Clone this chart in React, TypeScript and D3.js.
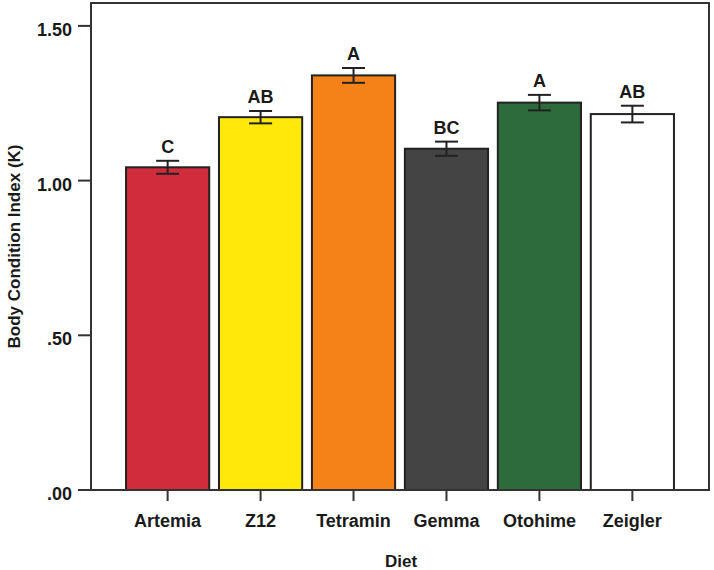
import React from "react";
import * as d3 from "d3";

const categories = ["Artemia", "Z12", "Tetramin", "Gemma", "Otohime", "Zeigler"];
const means = [1.043, 1.205, 1.340, 1.103, 1.252, 1.215];
const errors = [0.021, 0.02, 0.024, 0.023, 0.025, 0.027];
const letters = ["C", "AB", "A", "BC", "A", "AB"];
const colors = ["#D02C3C", "#FFE80A", "#F58218", "#444444", "#2D6B3B", "#FFFFFF"];
const yTicks = [0, 0.5, 1.0, 1.5];
const yTickLabels = [".00", ".50", "1.00", "1.50"];

const W = 714;
const H = 570;
const left = 91;
const right = 709;
const top = 3;
const bottom = 490;

export default function App() {
  const x = d3
    .scaleBand<string>()
    .domain(categories)
    .range([left, right])
    .paddingInner(0.105)
    .paddingOuter(0.377);
  const y = d3.scaleLinear().domain([0, 1.574]).range([bottom, top]);
  const font = "'Liberation Sans', Arial, Helvetica, sans-serif";
  const stroke = "#222";

  return (
    <svg
      width={W}
      height={H}
      style={{ position: "absolute", left: 0, top: 0, background: "#fff" }}
      fontFamily={font}
      fontWeight="bold"
    >
      {categories.map((c, i) => (
        <rect
          key={c}
          x={x(c)!}
          y={y(means[i])}
          width={x.bandwidth()}
          height={bottom - y(means[i])}
          fill={colors[i]}
          stroke={stroke}
          strokeWidth={2}
        />
      ))}
      {categories.map((c, i) => {
        const cx = x(c)! + x.bandwidth() / 2;
        const yt = y(means[i] + errors[i]);
        const yb = y(means[i] - errors[i]);
        return (
          <g key={c + "e"} stroke={stroke} strokeWidth={2}>
            <line x1={cx} x2={cx} y1={yt} y2={yb} />
            <line x1={cx - 11.5} x2={cx + 11.5} y1={yt} y2={yt} />
            <line x1={cx - 11.5} x2={cx + 11.5} y1={yb} y2={yb} />
          </g>
        );
      })}
      {categories.map((c, i) => (
        <text
          key={c + "l"}
          x={x(c)! + x.bandwidth() / 2}
          y={y(means[i] + errors[i]) - 8}
          textAnchor="middle"
          fontSize={18}
          fill="#1a1a1a"
        >
          {letters[i]}
        </text>
      ))}
      <rect
        x={left}
        y={top}
        width={right - left}
        height={bottom - top}
        fill="none"
        stroke="#333"
        strokeWidth={2}
      />
      {yTicks.map((t, i) => (
        <g key={"yt" + i}>
          <line x1={left - 13} x2={left} y1={y(t)} y2={y(t)} stroke="#333" strokeWidth={2} />
          <text
            x={left - 19}
            y={y(t) + 10}
            textAnchor="end"
            fontSize={18}
            fill="#1a1a1a"
          >
            {yTickLabels[i]}
          </text>
        </g>
      ))}
      {categories.map((c) => {
        const cx = x(c)! + x.bandwidth() / 2;
        return (
          <g key={c + "xt"}>
            <line x1={cx} x2={cx} y1={bottom} y2={bottom + 11} stroke="#333" strokeWidth={2} />
            <text x={cx} y={527} textAnchor="middle" fontSize={18} fill="#1a1a1a">
              {c}
            </text>
          </g>
        );
      })}
      <text x={(left + right) / 2 + 1} y={567} textAnchor="middle" fontSize={17} fill="#1a1a1a">
        Diet
      </text>
      <text
        transform={`translate(20, ${(top + bottom) / 2}) rotate(-90)`}
        textAnchor="middle"
        fontSize={17}
        fill="#1a1a1a"
      >
        Body Condition Index (K)
      </text>
    </svg>
  );
}
